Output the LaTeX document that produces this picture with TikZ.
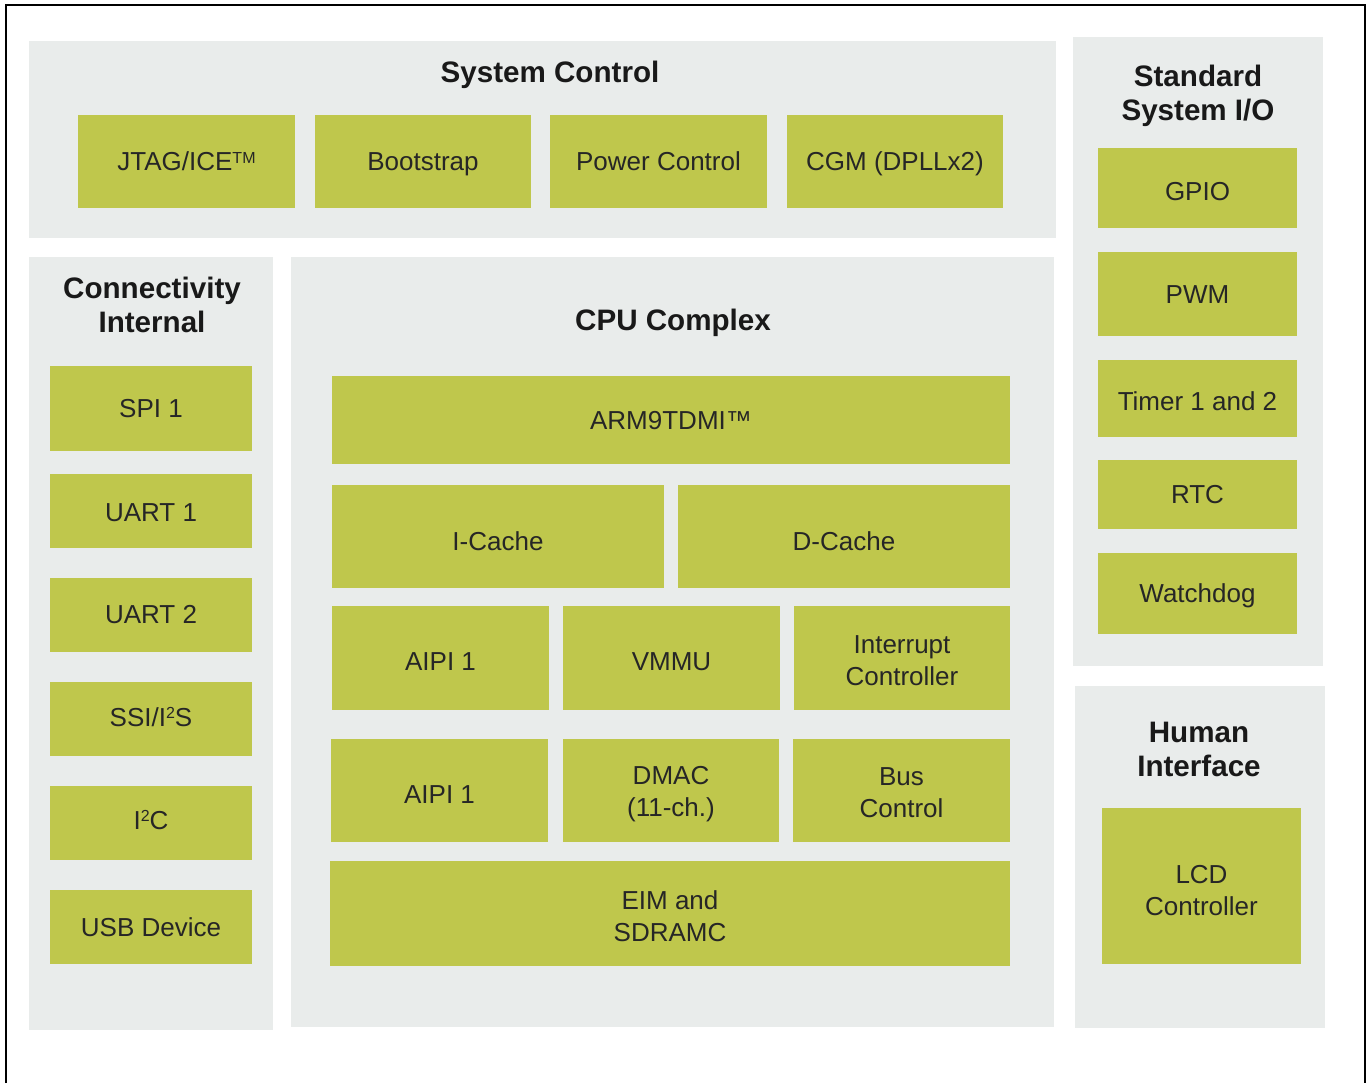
\documentclass[tikz,border=0pt]{standalone}
\usepackage{fontspec}
\setmainfont{Liberation Sans}
\usetikzlibrary{fit}
\definecolor{grn}{RGB}{191,199,76}
\definecolor{pnl}{RGB}{233,236,235}
\tikzset{
  panel/.style={fill=pnl, draw=none, inner sep=0pt},
  box/.style={fill=grn, draw=none, inner sep=0pt, align=center, font=\fontsize{13}{16}\selectfont, text=black!85},
  ttl/.style={align=center, font=\fontsize{14.8}{17}\selectfont\bfseries, text=black!90, inner sep=0pt},
  frame/.style={line width=1.2pt, draw=black},
  low/.style={text depth=0pt}
}
\newcommand{\supr}[1]{\raisebox{0.55ex}{\fontsize{8}{8}\selectfont #1}}
\newcommand{\nodp}[1]{\raisebox{0pt}[\height][0pt]{#1}}
% \bx[dy px]{name}{x1}{y1}{x2}{y2}{text}
\newcommand{\bx}[7][0]{%
  \pgfmathsetmacro{\bxcx}{(#3+#5)/2}%
  \pgfmathsetmacro{\bxcy}{(#4+#6)/2}%
  \pgfmathsetmacro{\bxw}{(#5-#3)*0.5}%
  \pgfmathsetmacro{\bxh}{(#6-#4)*0.5}%
  \node[box, minimum width=\bxw pt, minimum height=\bxh pt] (#2) at (\bxcx,\bxcy) {};%
  \node[box, fill=none, inner sep=0pt] (#2-t) at ([yshift=-#1*0.5pt]#2.center) {#7};%
}
\begin{document}
\begin{tikzpicture}[x=0.5pt,y=-0.5pt]
\useasboundingbox (0,0) rectangle (1367,1083);
\fill[white] (0,0) rectangle (1367,1083);
% frame
\coordinate (fbl) at (6,1083);
\coordinate (ftl) at (6,5);
\coordinate (ftr) at (1365,5);
\coordinate (fbr) at (1365,1083);
\draw[frame] (fbl) -- (ftl) -- (ftr) -- (fbr);
% panels
\node[panel, fit={(29,41)(1056,238)}] (sysc) {};
\node[panel, fit={(1073,37)(1323,666)}] (stdio) {};
\node[panel, fit={(29,257)(273,1030)}] (conn) {};
\node[panel, fit={(291,257)(1054,1027)}] (cpu) {};
\node[panel, fit={(1075,686)(1325,1028)}] (hum) {};
% titles
\node[ttl] (t1) at (550,75) {System Control};
\node[ttl] (t2) at (1198,96) {Standard\\System I/O};
\node[ttl] (t3) at (152,305) {Connectivity\\Internal};
\node[ttl] (t4) at (673,323) {CPU Complex};
\node[ttl] (t5) at (1199,749) {Human\\Interface};
% system control
\bx{jtag}{78}{115}{295}{208}{JTAG/ICE\supr{TM}}
\bx{boot}{315}{115}{531}{208}{\nodp{Bootstrap}}
\bx{pwr}{550}{115}{767}{208}{Power Control}
\bx{cgm}{787}{115}{1003}{208}{\nodp{CGM (DPLLx2)}}
% standard system io
\bx[4]{gpio}{1098}{148}{1297}{228}{GPIO}
\bx[1]{pwm}{1098}{252}{1297}{336}{PWM}
\bx[3]{tmr}{1098}{360}{1297}{437}{Timer 1 and 2}
\bx{rtc}{1098}{460}{1297}{529}{RTC}
\bx{wdg}{1098}{553}{1297}{634}{\nodp{Watchdog}}
% connectivity
\bx{spi}{50}{366}{252}{451}{SPI 1}
\bx[2]{ua}{50}{474}{252}{548}{UART 1}
\bx{ub}{50}{578}{252}{652}{UART 2}
\bx[-2]{ssi}{50}{682}{252}{756}{SSI/I\supr{2}S}
\bx[-3]{iic}{50}{786}{252}{860}{I\supr{2}C}
\bx{usb}{50}{890}{252}{964}{USB Device}
% cpu complex
\bx[1]{arm}{332}{376}{1010}{464}{ARM9TDMI™}
\bx[5]{ic}{332}{485}{664}{588}{I-Cache}
\bx[5]{dc}{678}{485}{1010}{588}{D-Cache}
\bx[4]{aipa}{332}{606}{549}{710}{AIPI 1}
\bx[4]{vmmu}{563}{606}{780}{710}{VMMU}
\bx[3]{intc}{794}{606}{1010}{710}{Interrupt\\Controller}
\bx[4]{aipb}{331}{739}{548}{842}{AIPI 1}
\bx[4]{dmac}{563}{739}{779}{842}{DMAC\\(11-ch.)}
\bx[2]{busc}{793}{739}{1010}{842}{Bus\\Control}
\bx[3]{eim}{330}{861}{1010}{966}{EIM and\\SDRAMC}
% human interface
\bx[5]{lcd}{1102}{808}{1301}{964}{LCD\\Controller}
\end{tikzpicture}
\end{document}
